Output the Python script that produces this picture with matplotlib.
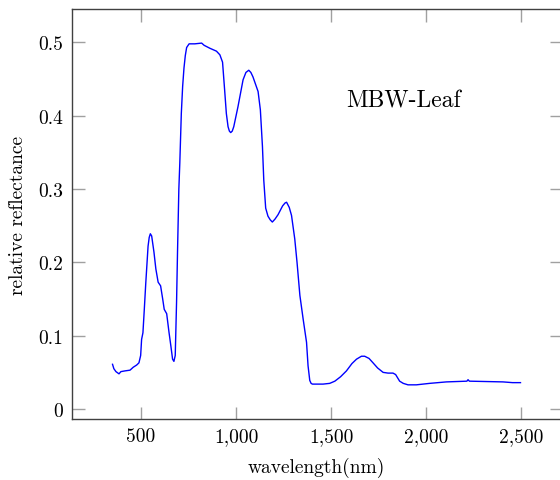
import matplotlib
matplotlib.use('Agg')
import matplotlib.pyplot as plt
from matplotlib.ticker import FuncFormatter

plt.rcParams['font.family'] = 'cmr10'
plt.rcParams['axes.formatter.use_mathtext'] = True
plt.rcParams['mathtext.fontset'] = 'cm'

# spectre MBW-Leaf
wavelength = [350, 357, 368, 384, 394, 415, 442, 459, 477, 489, 498, 503, 510, 517, 525, 537, 543,
              549, 556, 568, 578, 590, 603, 614, 622, 635, 647, 657, 666, 673, 680, 687, 692, 699,
              704, 712, 719, 726, 733, 740, 753, 783, 819, 832, 862, 897, 915, 929, 940, 949, 958,
              965, 972, 980, 988, 1010, 1037, 1052, 1067, 1078, 1089, 1116, 1128, 1139, 1146, 1156,
              1168, 1180, 1191, 1205, 1221, 1245, 1258, 1266, 1280, 1292, 1309, 1321, 1336, 1353,
              1371, 1379, 1388, 1395, 1402, 1458, 1493, 1520, 1550, 1581, 1610, 1634, 1660, 1677,
              1700, 1721, 1745, 1774, 1800, 1826, 1840, 1861, 1880, 1905, 1949, 2019, 2107, 2215,
              2221, 2228, 2405, 2455, 2497]
reflectance = [0.061, 0.055, 0.051, 0.048, 0.051, 0.052, 0.053, 0.057, 0.060, 0.063, 0.073, 0.095,
               0.104, 0.135, 0.172, 0.222, 0.234, 0.239, 0.236, 0.214, 0.191, 0.173, 0.168, 0.150,
               0.136, 0.130, 0.105, 0.086, 0.068, 0.065, 0.073, 0.146, 0.214, 0.300, 0.335, 0.403,
               0.440, 0.465, 0.482, 0.493, 0.498, 0.498, 0.499, 0.496, 0.492, 0.488, 0.483, 0.473,
               0.435, 0.403, 0.385, 0.379, 0.377, 0.379, 0.385, 0.412, 0.449, 0.459, 0.462, 0.459,
               0.453, 0.433, 0.408, 0.358, 0.312, 0.274, 0.263, 0.258, 0.255, 0.259, 0.265, 0.277,
               0.281, 0.282, 0.275, 0.264, 0.232, 0.200, 0.155, 0.123, 0.091, 0.059, 0.039, 0.035,
               0.034, 0.034, 0.035, 0.038, 0.044, 0.052, 0.062, 0.068, 0.072, 0.072, 0.069, 0.063,
               0.056, 0.050, 0.049, 0.049, 0.047, 0.038, 0.035, 0.033, 0.033, 0.035, 0.037, 0.038,
               0.040, 0.038, 0.037, 0.036, 0.036]

fig = plt.figure(figsize=(5.6, 4.81), dpi=100)
ax = fig.add_axes([0.128, 0.1268, 0.8754, 0.8524])

ax.plot(wavelength, reflectance, color='#0000ff', lw=1.0)

ax.set_xlim(135, 2715)
ax.set_ylim(-0.0136, 0.5455)
ax.set_xticks([500, 1000, 1500, 2000, 2500])
ax.set_yticks([0, 0.1, 0.2, 0.3, 0.4, 0.5])
ax.xaxis.set_major_formatter(FuncFormatter(lambda v, p: f"{v:,.0f}"))
ax.yaxis.set_major_formatter(FuncFormatter(lambda v, p: f"{v:g}"))

ax.tick_params(direction='in', length=9, width=1, color='#a0a0a0',
               top=True, right=True, labelsize=14, pad=6)
for s in ax.spines.values():
    s.set_color('#404040')
    s.set_linewidth(1)

ax.set_xlabel('wavelength(nm)', fontsize=14, labelpad=8)
ax.set_ylabel('relative reflectance', fontsize=14, labelpad=8)

ax.text(1882, 0.421, 'MBW-Leaf', fontsize=17, ha='center', va='center')

fig.savefig('out.png', dpi=100)
